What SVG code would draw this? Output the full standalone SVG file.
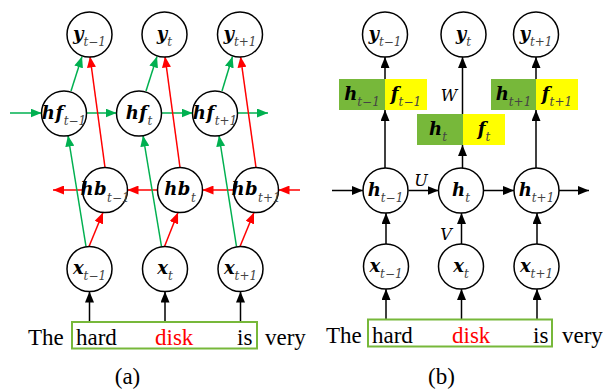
<svg xmlns="http://www.w3.org/2000/svg" width="603" height="391" viewBox="0 0 603 391">
<defs>
<style>
.n{fill:#fff;stroke:#000;stroke-width:1.5}
.m{font-family:"DejaVu Serif",serif;font-weight:bold;font-style:italic;font-size:18px;fill:#000}
.s{font-family:"DejaVu Serif",serif;font-weight:normal;font-style:italic;font-size:12px;fill:#444}
.lg{stroke:#00b050;stroke-width:1.5;fill:none;marker-end:url(#ag)}
.lr{stroke:#ff0000;stroke-width:1.5;fill:none;marker-end:url(#ar)}
.lb{stroke:#000;stroke-width:1.5;fill:none;marker-end:url(#ab)}
.w{font-family:"Liberation Serif","Times New Roman",serif;font-size:23px;fill:#000}
.lab{font-family:"DejaVu Serif",serif;font-style:italic;font-size:16px;fill:#000}
.gb{fill:#77b83a}
.yb{fill:#ffff00}
</style>
<marker id="ag" markerUnits="userSpaceOnUse" markerWidth="11" markerHeight="9" refX="11" refY="4.5" orient="auto"><path d="M0,0 L11,4.5 L0,9 z" fill="#00b050"/></marker>
<marker id="ar" markerUnits="userSpaceOnUse" markerWidth="11" markerHeight="9" refX="11" refY="4.5" orient="auto"><path d="M0,0 L11,4.5 L0,9 z" fill="#ff0000"/></marker>
<marker id="ab" markerUnits="userSpaceOnUse" markerWidth="11" markerHeight="9" refX="11" refY="4.5" orient="auto"><path d="M0,0 L11,4.5 L0,9 z" fill="#000"/></marker>
</defs>
<rect width="603" height="391" fill="#fff"/>

<g id="connectors">
<line class="lg" x1="10" y1="113" x2="41.5" y2="113"/>
<line class="lg" x1="86.5" y1="113" x2="116.5" y2="113"/>
<line class="lg" x1="161.5" y1="113" x2="192.5" y2="113"/>
<line class="lg" x1="237.5" y1="113" x2="268" y2="113"/>
<line class="lr" x1="300" y1="190" x2="278.5" y2="190"/>
<line class="lr" x1="233.5" y1="190" x2="202.5" y2="190"/>
<line class="lr" x1="157.5" y1="190" x2="127.5" y2="190"/>
<line class="lr" x1="82.5" y1="190" x2="53" y2="190"/>
<line class="lg" x1="86" y1="246.5" x2="68" y2="135.5"/>
<line class="lg" x1="161.5" y1="246.5" x2="143" y2="135.5"/>
<line class="lg" x1="236.5" y1="246.5" x2="219" y2="135.5"/>
<line class="lr" x1="89" y1="246.5" x2="103" y2="212.5"/>
<line class="lr" x1="164.5" y1="246.5" x2="178" y2="212.5"/>
<line class="lr" x1="240" y1="246.5" x2="254" y2="212.5"/>
<line class="lg" x1="71" y1="91" x2="82" y2="56.5"/>
<line class="lg" x1="146" y1="91" x2="157" y2="56.5"/>
<line class="lg" x1="222" y1="91" x2="232.5" y2="56.5"/>
<line class="lr" x1="105" y1="167.5" x2="90" y2="56.5"/>
<line class="lr" x1="180" y1="167.5" x2="165" y2="56.5"/>
<line class="lr" x1="256" y1="167.5" x2="240.5" y2="56.5"/>
<line class="lb" x1="89.5" y1="322" x2="89.5" y2="291.5"/>
<line class="lb" x1="165" y1="322" x2="165" y2="291.5"/>
<line class="lb" x1="240.5" y1="322" x2="240.5" y2="291.5"/>

<line class="lb" x1="332" y1="190.5" x2="363" y2="190.5"/>
<line class="lb" x1="408.5" y1="190.5" x2="438.5" y2="190.5"/>
<line class="lb" x1="484" y1="190.5" x2="514" y2="190.5"/>
<line class="lb" x1="559" y1="190.5" x2="589" y2="190.5"/>
<line class="lb" x1="386" y1="244" x2="386" y2="213"/>
<line class="lb" x1="461.5" y1="244" x2="461.5" y2="213"/>
<line class="lb" x1="537" y1="244" x2="537" y2="213"/>
<line class="lb" x1="386" y1="319" x2="386" y2="289"/>
<line class="lb" x1="461.5" y1="319" x2="461.5" y2="289"/>
<line class="lb" x1="537" y1="319" x2="537" y2="289"/>
<line class="lb" x1="385" y1="168" x2="385" y2="110"/>
<line class="lb" x1="462.5" y1="168" x2="462.5" y2="145"/>
<line class="lb" x1="536" y1="168" x2="536" y2="110"/>
<line class="lb" x1="385" y1="79" x2="385" y2="57"/>
<line class="lb" x1="462.5" y1="114" x2="462.5" y2="57"/>
<line class="lb" x1="536" y1="79" x2="536" y2="57"/>
<text class="lab" x="449" y="101" text-anchor="middle">W</text>
<text class="lab" x="421" y="186" text-anchor="middle">U</text>
<text class="lab" x="446" y="240" text-anchor="middle">V</text>
</g>

<g id="a_y_tm1"><circle class="n" cx="89.5" cy="34.5" r="22.5"/><text x="89.5" y="40" text-anchor="middle"><tspan class="m">y</tspan><tspan class="s" dy="6">t−1</tspan></text></g>
<g id="a_y_t"><circle class="n" cx="164.5" cy="34.5" r="22.5"/><text x="164.5" y="40" text-anchor="middle"><tspan class="m">y</tspan><tspan class="s" dy="6">t</tspan></text></g>
<g id="a_y_tp1"><circle class="n" cx="240" cy="34.5" r="22.5"/><text x="240" y="40" text-anchor="middle"><tspan class="m">y</tspan><tspan class="s" dy="6">t+1</tspan></text></g>

<g id="a_hf_tm1"><circle class="n" cx="64" cy="113.5" r="22.5"/><text x="64" y="119" text-anchor="middle"><tspan class="m" letter-spacing="0.5">hf</tspan><tspan class="s" dy="6">t−1</tspan></text></g>
<g id="a_hf_t"><circle class="n" cx="139" cy="113.5" r="22.5"/><text x="139" y="119" text-anchor="middle"><tspan class="m" letter-spacing="0.5">hf</tspan><tspan class="s" dy="6">t</tspan></text></g>
<g id="a_hf_tp1"><circle class="n" cx="215" cy="113.5" r="22.5"/><text x="215" y="119" text-anchor="middle"><tspan class="m" letter-spacing="0.5">hf</tspan><tspan class="s" dy="6">t+1</tspan></text></g>

<g id="a_hb_tm1"><circle class="n" cx="105" cy="190" r="22.5"/><text x="105" y="195" text-anchor="middle"><tspan class="m" letter-spacing="0.5">hb</tspan><tspan class="s" dy="7">t−1</tspan></text></g>
<g id="a_hb_t"><circle class="n" cx="180" cy="190" r="22.5"/><text x="180" y="195" text-anchor="middle"><tspan class="m" letter-spacing="0.5">hb</tspan><tspan class="s" dy="7">t</tspan></text></g>
<g id="a_hb_tp1"><circle class="n" cx="256" cy="190" r="22.5"/><text x="256" y="195" text-anchor="middle"><tspan class="m" letter-spacing="0.5">hb</tspan><tspan class="s" dy="7">t+1</tspan></text></g>

<g id="a_x_tm1"><circle class="n" cx="89.5" cy="269" r="22.5"/><text x="89.5" y="274" text-anchor="middle"><tspan class="m">x</tspan><tspan class="s" dy="6">t−1</tspan></text></g>
<g id="a_x_t"><circle class="n" cx="165" cy="269" r="22.5"/><text x="165" y="274" text-anchor="middle"><tspan class="m">x</tspan><tspan class="s" dy="6">t</tspan></text></g>
<g id="a_x_tp1"><circle class="n" cx="240.5" cy="269" r="22.5"/><text x="240.5" y="274" text-anchor="middle"><tspan class="m">x</tspan><tspan class="s" dy="6">t+1</tspan></text></g>

<g id="a_sentence">
<rect x="72" y="322" width="185" height="26.5" fill="none" stroke="#77b83a" stroke-width="2"/>
<text class="w" x="28" y="345">The</text>
<text class="w" x="76" y="345">hard</text>
<text class="w" x="155" y="345" style="fill:#ff0000">disk</text>
<text class="w" x="237" y="345">is</text>
<text class="w" x="265" y="345">very</text>
<text class="w" x="127.5" y="384" text-anchor="middle">(a)</text>
</g>

<g id="b_y_tm1"><circle class="n" cx="385" cy="34.5" r="22.5"/><text x="385" y="40" text-anchor="middle"><tspan class="m">y</tspan><tspan class="s" dy="6">t−1</tspan></text></g>
<g id="b_y_t"><circle class="n" cx="463.5" cy="34.5" r="22.5"/><text x="463.5" y="40" text-anchor="middle"><tspan class="m">y</tspan><tspan class="s" dy="6">t</tspan></text></g>
<g id="b_y_tp1"><circle class="n" cx="536" cy="34.5" r="22.5"/><text x="536" y="40" text-anchor="middle"><tspan class="m">y</tspan><tspan class="s" dy="6">t+1</tspan></text></g>

<g id="b_hf_tm1"><rect class="gb" x="339" y="79" width="46" height="31"/><rect class="yb" x="385" y="79" width="42" height="31"/>
<text x="362" y="100" text-anchor="middle"><tspan class="m">h</tspan><tspan class="s" dy="6">t−1</tspan></text>
<text x="406" y="100" text-anchor="middle"><tspan class="m">f</tspan><tspan class="s" dy="6">t−1</tspan></text></g>
<g id="b_hf_t"><rect class="gb" x="417" y="114" width="46" height="31"/><rect class="yb" x="463" y="114" width="42" height="31"/>
<text x="438" y="135" text-anchor="middle"><tspan class="m">h</tspan><tspan class="s" dy="6">t</tspan></text>
<text x="484" y="135" text-anchor="middle"><tspan class="m">f</tspan><tspan class="s" dy="6">t</tspan></text></g>
<g id="b_hf_tp1"><rect class="gb" x="491" y="79" width="45" height="31"/><rect class="yb" x="536" y="79" width="42" height="31"/>
<text x="513.5" y="100" text-anchor="middle"><tspan class="m">h</tspan><tspan class="s" dy="6">t+1</tspan></text>
<text x="557" y="100" text-anchor="middle"><tspan class="m">f</tspan><tspan class="s" dy="6">t+1</tspan></text></g>

<g id="b_h_tm1"><circle class="n" cx="385.5" cy="190.5" r="22.5"/><text x="385.5" y="196" text-anchor="middle"><tspan class="m">h</tspan><tspan class="s" dy="6">t−1</tspan></text></g>
<g id="b_h_t"><circle class="n" cx="461" cy="190.5" r="22.5"/><text x="461" y="196" text-anchor="middle"><tspan class="m">h</tspan><tspan class="s" dy="6">t</tspan></text></g>
<g id="b_h_tp1"><circle class="n" cx="536.5" cy="190.5" r="22.5"/><text x="536.5" y="196" text-anchor="middle"><tspan class="m">h</tspan><tspan class="s" dy="6">t+1</tspan></text></g>

<g id="b_x_tm1"><circle class="n" cx="386" cy="266.5" r="22.5"/><text x="386" y="271.5" text-anchor="middle"><tspan class="m">x</tspan><tspan class="s" dy="6">t−1</tspan></text></g>
<g id="b_x_t"><circle class="n" cx="461" cy="266.5" r="22.5"/><text x="461" y="271.5" text-anchor="middle"><tspan class="m">x</tspan><tspan class="s" dy="6">t</tspan></text></g>
<g id="b_x_tp1"><circle class="n" cx="536.5" cy="266.5" r="22.5"/><text x="536.5" y="271.5" text-anchor="middle"><tspan class="m">x</tspan><tspan class="s" dy="6">t+1</tspan></text></g>

<g id="b_sentence">
<rect x="368" y="319.5" width="184" height="27" fill="none" stroke="#77b83a" stroke-width="2"/>
<text class="w" x="326" y="342.5">The</text>
<text class="w" x="372" y="342.5">hard</text>
<text class="w" x="452" y="342.5" style="fill:#ff0000">disk</text>
<text class="w" x="533" y="342.5">is</text>
<text class="w" x="562" y="342.5">very</text>
<text class="w" x="441.5" y="384" text-anchor="middle">(b)</text>
</g>
</svg>
